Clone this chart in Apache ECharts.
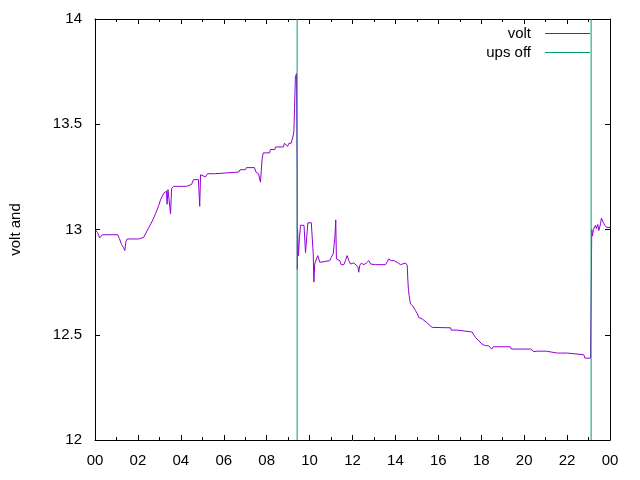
<!DOCTYPE html>
<html>
<head>
<meta charset="utf-8">
<script src="https://cdn.jsdelivr.net/npm/echarts@6/dist/echarts.min.js"></script>
<style>
  html, body { margin: 0; padding: 0; background: #fff; }
  #chart { width: 640px; height: 480px; }
</style>
</head>
<body>
<div id="chart"></div>
<script>
// time of day in hours, battery voltage
var hours = [
  0.00, 0.12, 0.22, 0.34, 1.06, 1.14, 1.23, 1.33, 1.39, 1.44, 1.50, 2.04, 2.12, 2.27, 2.35,
  2.51, 2.67, 2.82, 2.97, 3.05, 3.21, 3.33, 3.36, 3.40, 3.47, 3.52, 3.57, 3.66, 3.89, 3.98,
  4.08, 4.26, 4.31, 4.50, 4.59, 4.82, 4.88, 4.92, 5.15, 5.24, 5.62, 5.66, 6.70, 6.76, 7.01,
  7.06, 7.43, 7.50, 7.62, 7.67, 7.71, 7.79, 7.84, 8.13, 8.18, 8.38, 8.41, 8.78, 8.83, 8.92,
  8.97, 9.04, 9.14, 9.24, 9.27, 9.30, 9.34, 9.39, 9.42, 9.43, 9.44, 9.48, 9.53, 9.58, 9.74,
  9.81, 9.86, 9.92, 10.08, 10.12, 10.17, 10.20, 10.24, 10.32, 10.38, 10.48, 10.54, 10.94, 11.01, 11.10,
  11.18, 11.22, 11.25, 11.32, 11.41, 11.47, 11.60, 11.67, 11.75, 11.83, 11.91, 12.06, 12.25, 12.29, 12.34,
  12.41, 12.53, 12.64, 12.76, 12.84, 12.92, 13.07, 13.54, 13.69, 13.80, 13.93, 14.08, 14.24, 14.32, 14.47,
  14.55, 14.58, 14.61, 14.64, 14.70, 14.80, 14.86, 14.94, 15.02, 15.09, 15.25, 15.32, 15.45, 15.56, 15.71,
  16.57, 16.60, 16.88, 16.93, 17.58, 17.65, 17.73, 17.89, 18.04, 18.20, 18.35, 18.43, 18.48, 18.56, 19.36,
  19.40, 20.30, 20.37, 20.45, 20.61, 21.03, 21.07, 21.54, 21.62, 21.69, 22.01, 22.05, 22.78, 22.83, 23.09,
  23.12, 23.15, 23.18, 23.23, 23.32, 23.37, 23.43, 23.48, 23.56, 23.60, 23.68, 23.76, 23.84, 24.00
];
var volts = [
  13.000, 12.985, 12.960, 12.975, 12.975, 12.957, 12.930, 12.914, 12.900, 12.943, 12.955, 12.955, 12.963, 12.963, 12.970,
  13.010, 13.040, 13.075, 13.114, 13.140, 13.173, 13.182, 13.120, 13.190, 13.194, 13.075, 13.194, 13.205, 13.205, 13.197,
  13.205, 13.205, 13.214, 13.214, 13.237, 13.237, 13.110, 13.260, 13.250, 13.265, 13.265, 13.273, 13.273, 13.284, 13.284,
  13.294, 13.294, 13.273, 13.265, 13.270, 13.225, 13.337, 13.364, 13.364, 13.380, 13.380, 13.392, 13.392, 13.410, 13.410,
  13.395, 13.410, 13.410, 13.448, 13.467, 13.580, 13.725, 13.740, 13.280, 12.810, 13.000, 12.876, 12.963, 13.020, 13.020,
  12.890, 12.955, 13.032, 13.032, 13.027, 12.884, 12.750, 12.836, 12.860, 12.876, 12.844, 12.852, 12.852, 12.868, 12.884,
  12.963, 13.046, 12.860, 12.868, 12.852, 12.833, 12.833, 12.852, 12.876, 12.852, 12.836, 12.841, 12.824, 12.797, 12.830,
  12.840, 12.833, 12.840, 12.852, 12.836, 12.844, 12.833, 12.833, 12.860, 12.852, 12.852, 12.844, 12.833, 12.841, 12.841,
  12.830, 12.757, 12.710, 12.686, 12.646, 12.638, 12.633, 12.614, 12.600, 12.582, 12.575, 12.567, 12.559, 12.548, 12.535,
  12.533, 12.522, 12.522, 12.513, 12.513, 12.500, 12.487, 12.471, 12.455, 12.448, 12.448, 12.440, 12.432, 12.443, 12.443,
  12.432, 12.432, 12.428, 12.420, 12.422, 12.422, 12.413, 12.413, 12.408, 12.413, 12.413, 12.405, 12.405, 12.389, 12.389,
  12.670, 13.000, 12.970, 13.000, 13.020, 13.004, 13.024, 12.995, 13.027, 13.054, 13.035, 13.020, 13.010, 13.010
];
// hours where the ups went off
var upsOff = [9.42, 23.12];

var xTicks = { min: 0, max: 24, interval: 2 };
var yTicks = { min: 12, max: 14, interval: 0.5 };

var font = 'Liberation Sans, Arial, sans-serif';
var VOLT_COLOR = '#9400d3';
var UPS_COLOR = '#009e73';

var voltData = [];
for (var i = 0; i < hours.length; i++) {
    voltData.push([hours[i], volts[i]]);
}

// one vertical line per ups-off time, broken apart with '-'
var upsData = [];
upsOff.forEach(function (h, k) {
    if (k > 0) upsData.push([h, '-']);
    upsData.push([h, yTicks.min]);
    upsData.push([h, yTicks.max]);
});

var xBase = {
    type: 'value',
    min: xTicks.min,
    max: xTicks.max,
    interval: xTicks.interval,
    axisLine: { show: true, onZero: false, lineStyle: { color: '#000', width: 1 } },
    axisTick: { show: true, inside: true, length: 5, lineStyle: { color: '#000' } },
    minorTick: { show: true, splitNumber: 2, length: 3, lineStyle: { color: '#000' } },
    splitLine: { show: false },
    minorSplitLine: { show: false }
};
var yBase = {
    type: 'value',
    min: yTicks.min,
    max: yTicks.max,
    interval: yTicks.interval,
    axisLine: { show: true, onZero: false, lineStyle: { color: '#000', width: 1 } },
    axisTick: { show: true, inside: true, length: 5, lineStyle: { color: '#000' } },
    splitLine: { show: false }
};

var chart = echarts.init(document.getElementById('chart'), null, { renderer: 'canvas' });
chart.setOption({
    animation: false,
    backgroundColor: '#fff',
    color: [VOLT_COLOR, UPS_COLOR],
    textStyle: { fontFamily: font },
    grid: { left: 94, right: 30, top: 19, bottom: 40, containLabel: false },
    legend: {
        orient: 'vertical',
        align: 'right',
        right: 50,
        top: 24,
        padding: 0,
        itemGap: 0,
        itemWidth: 45,
        itemHeight: 1,
        icon: 'rect',
        selectedMode: false,
        textStyle: { fontSize: 15, color: '#000', lineHeight: 19, padding: [0, 9, 0, 0], fontFamily: font },
        data: ['volt', 'ups off']
    },
    xAxis: [
        Object.assign({}, xBase, {
            position: 'bottom',
            axisLabel: {
                show: true, margin: 13, fontSize: 15, color: '#000', fontFamily: font,
                formatter: function (v) { var h = v % 24; return (h < 10 ? '0' : '') + h; }
            }
        }),
        Object.assign({}, xBase, { position: 'top', axisLabel: { show: false } })
    ],
    yAxis: [
        Object.assign({}, yBase, {
            position: 'left',
            name: 'volt and',
            nameLocation: 'middle',
            nameGap: 72,
            nameTextStyle: { fontSize: 15, color: '#000', fontFamily: font },
            axisLabel: { show: true, margin: 13, fontSize: 15, color: '#000', fontFamily: font }
        }),
        Object.assign({}, yBase, { position: 'right', axisLabel: { show: false } })
    ],
    series: [
        {
            name: 'volt',
            type: 'line',
            data: voltData,
            showSymbol: false,
            symbol: 'none',
            itemStyle: { color: VOLT_COLOR },
            lineStyle: { width: 1, color: VOLT_COLOR },
            silent: true,
            z: 2
        },
        {
            name: 'ups off',
            type: 'line',
            data: upsData,
            showSymbol: false,
            symbol: 'none',
            connectNulls: false,
            itemStyle: { color: UPS_COLOR },
            lineStyle: { width: 1, color: UPS_COLOR },
            silent: true,
            z: 3
        }
    ]
});
</script>
</body>
</html>
